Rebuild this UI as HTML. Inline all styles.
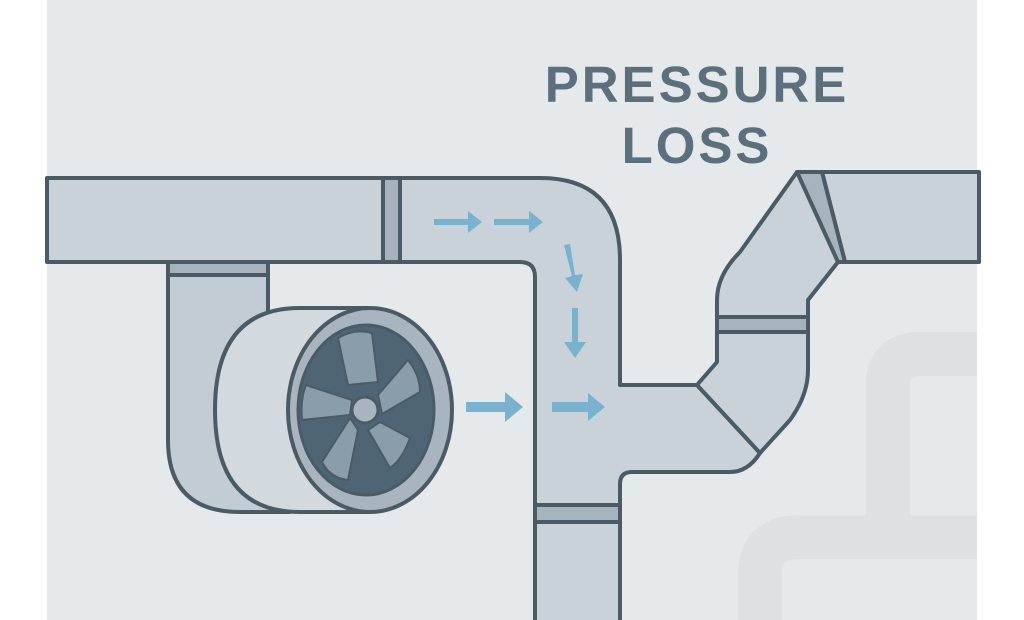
<!DOCTYPE html>
<html><head><style>
html,body{margin:0;padding:0;background:#fff;width:1024px;height:620px;overflow:hidden}
</style></head><body>
<svg width="1024" height="620" viewBox="0 0 1024 620" xmlns="http://www.w3.org/2000/svg">
<rect x="0" y="0" width="1024" height="620" fill="#fff"/>
<rect x="47" y="0" width="930" height="620" fill="#e5e9ec"/>
<!-- faint background pipes -->
<g fill="none" stroke="#dde1e4" stroke-width="44" stroke-linejoin="round">
<path d="M888 520 V385 Q888 354 920 354 H977"/>
<path d="M760 620 V575 Q760 537 800 537 H977"/>
</g>
<text x="697" y="102" text-anchor="middle" font-family="Liberation Sans, sans-serif" font-weight="bold" font-size="51" letter-spacing="3" fill="#5b6f7d">PRESSURE</text>
<text x="697" y="163" text-anchor="middle" font-family="Liberation Sans, sans-serif" font-weight="bold" font-size="51" letter-spacing="3" fill="#5b6f7d">LOSS</text>
<g stroke="#4b5b66" stroke-width="4" stroke-linejoin="round">
<path d="M47 178 H540 Q620 178 620 260 V385 H697 L760 453 Q748 472 730 472 H632 Q620 472 620 484 V622 H535 V277 Q535 262 520 262 H47 Z" fill="#c9d2d9"/>
<rect x="535" y="505" width="85" height="17" fill="#a7b4bd"/>
<rect x="383" y="178" width="17" height="84" fill="#a7b4bd"/>
<path d="M697 385 L717 362 V300 Q717 275 740 252 L797 172 H822 L845 262 H838 L808 300 V370 Q808 395 790 420 L760 453 Z" fill="#c9d2d9"/>
<rect x="717" y="317" width="91" height="15" fill="#a7b4bd"/>
<path d="M822 172 H979 V262 H845 Z" fill="#c9d2d9"/>
<path d="M797 172 H822 L845 262 H838 Z" fill="#a7b4bd"/>
<!-- fan vertical duct -->
<path d="M168 262 H268 V470 Q270 505 290 512 H240 Q168 512 168 440 Z" fill="#c2ccd4"/>
<rect x="168" y="262" width="100" height="13" fill="#a7b4bd"/>
<!-- drum -->
<path d="M300 308 H370 V512 H300 Q215 512 215 410 Q215 308 300 308 Z" fill="#d2d9df"/>
<ellipse cx="370" cy="410" rx="82" ry="102" fill="#a8b5be"/>
<ellipse cx="366" cy="410" rx="68" ry="85" fill="#4f6574" stroke-width="3"/>
</g>
<g fill="#8a9daa" stroke="#4b5b66" stroke-width="2">
<path d="M348 385 L338 338 Q355 328 372 333 L378 382 Z"/>
<path d="M378 395 L408 360 Q420 375 420 392 L382 414 Z"/>
<path d="M380 422 L410 438 Q402 460 390 468 L368 430 Z"/>
<path d="M358 430 L348 480 Q330 478 322 462 L350 418 Z"/>
<path d="M350 415 L302 420 Q300 400 306 385 L352 400 Z"/>
</g>
<circle cx="365" cy="410" r="13" fill="#a8b5be" stroke="#4b5b66" stroke-width="3"/>
<g fill="#78b2cf">
<path d="M434 219 H468 V211 L482 222 L468 233 V225 H434 Z"/>
<path d="M494 219 H529 V211 L543 222 L529 233 V225 H494 Z"/>
<path d="M564 245 L570 244 L575 275 L583 274 L577 292 L565 278 L572 276 Z"/>
<path d="M572 308 H578 V342 H586 L575 358 L564 342 H572 Z"/>
<path d="M466 402 H505 V392 L523 407 L505 422 V412 H466 Z"/>
<path d="M552 402 H588 V393 L605 407 L588 421 V412 H552 Z"/>
</g>
</svg>
</body></html>
